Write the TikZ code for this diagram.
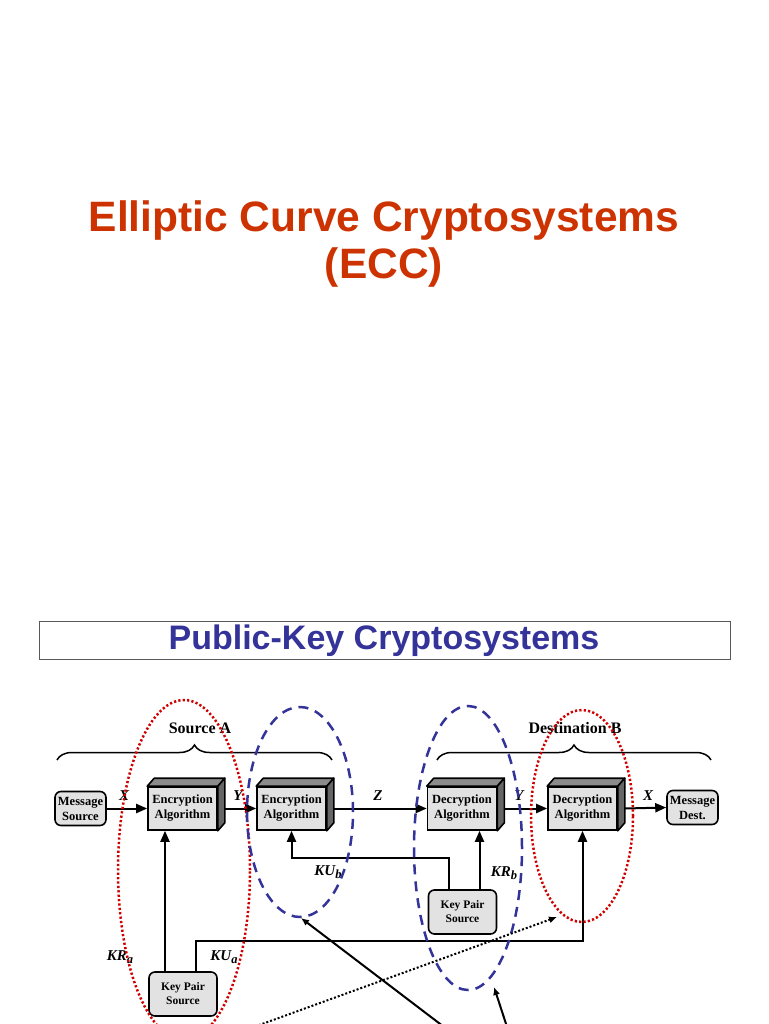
\documentclass[tikz,border=0pt]{standalone}
\usepackage{fontspec}
\setmainfont{Liberation Serif}
\newfontfamily\headfont{Liberation Sans}
\usetikzlibrary{positioning,arrows.meta,calc,decorations.pathreplacing}
\definecolor{flame}{HTML}{CC3300}
\definecolor{navy}{HTML}{333399}
\definecolor{crimson}{HTML}{D00000}
\definecolor{boxgray}{HTML}{E2E2E2}
\definecolor{topgray}{HTML}{8C8C8C}
\definecolor{sidegray}{HTML}{666666}
\newcommand{\keysub}[1]{\raisebox{-2.5pt}{\fontsize{12.5}{12.5}\selectfont #1}}

\begin{document}
\begin{tikzpicture}[x=1pt,y=-1pt,
    algbox/.style={draw,line width=1.6pt,fill=boxgray,minimum width=69pt,minimum height=43pt,inner sep=0pt,align=center,font=\fontsize{12.5}{15}\selectfont\bfseries},
    endbox/.style={draw,line width=1.6pt,fill=boxgray,rounded corners=6pt,minimum width=51pt,minimum height=34pt,inner sep=0pt,align=center,font=\fontsize{12.5}{15}\selectfont\bfseries},
    keybox/.style={draw,line width=1.6pt,fill=boxgray,rounded corners=6pt,minimum width=68pt,minimum height=44pt,inner sep=0pt,align=center,font=\fontsize{11.5}{14}\selectfont\bfseries},
    conn/.style={draw,line width=2pt,-{Triangle[length=11pt,width=9pt]}},
    lbl/.style={font=\fontsize{15}{15}\selectfont\bfseries\itshape},
    bracelbl/.style={font=\fontsize{16}{16}\selectfont\bfseries},
    brace/.style={draw,line width=1.5pt,decorate,decoration={brace,amplitude=15pt}},
    reddot/.style={draw=crimson,line width=2.5pt,dash pattern=on 2.2pt off 2.2pt},
    bluedash/.style={draw=navy,line width=2.5pt,dash pattern=on 10pt off 7pt},
    pointer/.style={draw,line width=2pt,-{Latex[length=8pt,width=7pt]}}]
  \useasboundingbox (0,0) rectangle (768,1024);
  \clip (0,0) rectangle (768,1024);

  % titles
  \node[anchor=base,text=flame,font=\headfont\fontsize{42.5}{46}\selectfont\bfseries] (title) at (384,232) {Elliptic Curve Cryptosystems};
  \node[anchor=base,text=flame,font=\headfont\fontsize{42.5}{46}\selectfont\bfseries] (subtitle) at (384,278) {(ECC)};
  \draw[gray!70!black,line width=0.8pt] (39,621) rectangle (730,659);
  \node[anchor=base,text=navy,font=\headfont\fontsize{34}{36}\selectfont\bfseries] (head) at (384,649) {Public-Key Cryptosystems};

  % boxes
  \node[endbox] (msgsrc) at (80.5,808.5) {Message\\Source};
  \node[algbox] (enc1) at (182.5,808.5) {Encryption\\Algorithm};
  \node[algbox] (enc2) at (291.5,808.5) {Encryption\\Algorithm};
  \node[algbox] (dec1) at (462,808.5) {Decryption\\Algorithm};
  \node[algbox] (dec2) at (582.5,808.5) {Decryption\\Algorithm};
  \node[endbox] (msgdst) at (692.5,807.5) {Message\\Dest.};
  \node[keybox] (kpsA) at (183,994) {Key Pair\\Source};
  \node[keybox] (kpsB) at (462.5,912) {Key Pair\\Source};

  % 3d faces
  \foreach \b in {enc1,enc2,dec1,dec2}{
    \filldraw[fill=topgray,line width=1.6pt,line join=round] (\b.north west) -- ++(7,-8) -- ($(\b.north east)+(7,-8)$) -- (\b.north east) -- cycle;
    \filldraw[fill=sidegray,line width=1.6pt,line join=round] (\b.north east) -- ++(7,-8) -- ($(\b.south east)+(7,-8)$) -- (\b.south east) -- cycle;
  }

  % braces
  \draw[brace] (57,760) -- (332,760);
  \draw[brace] (437,760) -- (711,760);
  \node[bracelbl,anchor=base] (srcA) at (200,733) {Source A};
  \node[bracelbl,anchor=base] (dstB) at (575,733) {Destination B};

  % message path
  \draw[conn] (msgsrc) -- (enc1);
  \draw[conn] ([xshift=7pt]enc1.east) -- (enc2.west);
  \draw[conn] ([xshift=7pt]enc2.east) -- (dec1.west);
  \draw[conn] ([xshift=7pt]dec1.east) -- (dec2.west);
  \draw[conn] ([xshift=7pt]dec2.east) -- (msgdst.west);
  \node[lbl] (x1) at (124,796) {X};
  \node[lbl] (y1) at (238,796) {Y};
  \node[lbl] (z) at (378,796) {Z};
  \node[lbl] (y2) at (519,796) {Y};
  \node[lbl] (x2) at (648,796) {X};

  % keys
  \draw[conn] ([xshift=-18pt]kpsA.north) -- ([xshift=-18pt]kpsA.north |- enc1.south);
  \draw[conn] ([xshift=13pt]kpsA.north) -- ++(0,-30) -| (dec2.south);
  \draw[conn] ([xshift=-14pt]kpsB.north) -- ++(0,-31) -| (enc2.south);
  \draw[conn] ([xshift=17pt]kpsB.north) -- ([xshift=17pt]kpsB.north |- dec1.south);
  \node[lbl] (kra) at (120,957) {KR\keysub{a}};
  \node[lbl] (kua) at (224,957) {KU\keysub{a}};
  \node[lbl] (kub) at (328,872) {KU\keysub{b}};
  \node[lbl] (krb) at (504,873) {KR\keysub{b}};

  % groupings
  \draw[reddot] (184,870) ellipse [x radius=66pt,y radius=170pt];
  \draw[bluedash] (300,812) ellipse [x radius=53pt,y radius=105pt];
  \draw[bluedash] (468,848) ellipse [x radius=54pt,y radius=142pt];
  \draw[reddot] (582,816) ellipse [x radius=51pt,y radius=106pt];

  % pointers
  \coordinate (tailA) at (240,1032);
  \coordinate (tipA) at (557,917);
  \coordinate (tailB) at (452,1033);
  \coordinate (tipB) at (301,918);
  \coordinate (tailC) at (509,1033);
  \coordinate (tipC) at (494,987);
  \draw[pointer,dash pattern=on 2pt off 2pt] (tailA) -- (tipA);
  \draw[pointer] (tailB) -- (tipB);
  \draw[pointer] (tailC) -- (tipC);
\end{tikzpicture}
\end{document}
